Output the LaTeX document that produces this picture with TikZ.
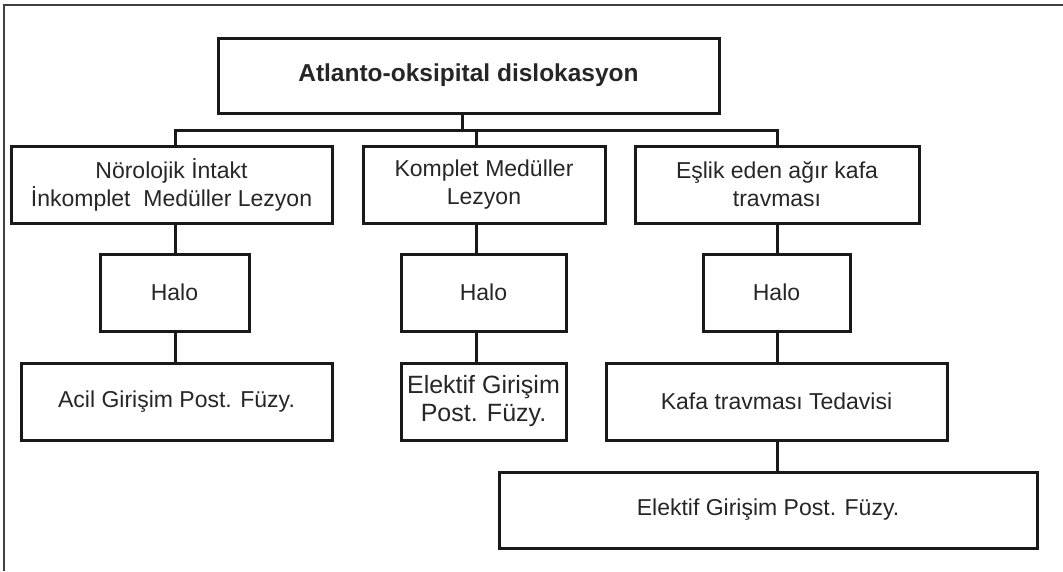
\documentclass[tikz,border=0pt]{standalone}
\usepackage{fontspec}
\setmainfont{Liberation Sans}
\begin{document}
\begin{tikzpicture}[x=1pt,y=-1pt,
  box/.style={draw=black!90, line width=3pt, rectangle, inner sep=0pt,
    text=black!85, align=center, font=\fontsize{23}{28}\selectfont},
  link/.style={draw=black!90, line width=3pt},
  frameline/.style={draw=black!75, line width=1.6pt}]
\useasboundingbox (0,0) rectangle (1063,571);

% outer frame (top and left edges)
\draw[frameline] (4,571) -- (4,5) -- (1063,5);

% title
\node[box, minimum width=501pt, minimum height=75pt,
  font=\fontsize{24.5}{28}\selectfont\bfseries] (top) at (468.5,75.5)
  {Atlanto-oksipital dislokasyon};

% second row
\node[box, minimum width=321pt, minimum height=77pt] (A) at (171.5,184.5)
  {Nörolojik İntakt\\İnkomplet\ \ Medüller Lezyon};
\node[box, minimum width=242pt, minimum height=77pt] (B) at (484,184.5)
  {Komplet Medüller\\Lezyon};
\node[box, minimum width=284pt, minimum height=77pt] (C) at (777,184.5)
  {Eşlik eden ağır kafa\\travması};

% halo row
\node[box, minimum width=149pt, minimum height=77pt] (HA) at (174.5,292.5) {Halo};
\node[box, minimum width=165pt, minimum height=77pt] (HB) at (483.5,292.5) {Halo};
\node[box, minimum width=147pt, minimum height=77pt] (HC) at (776.5,292.5) {Halo};

% fourth row
\node[box, minimum width=311pt, minimum height=77pt] (A4) at (176.5,401.5)
  {Acil Girişim Post. Füzy.};
\node[box, minimum width=165pt, minimum height=77pt,
  font=\fontsize{25}{28}\selectfont] (B4) at (483.5,401.5)
  {Elektif Girişim\\Post. Füzy.};
\node[box, minimum width=341pt, minimum height=77pt] (C4) at (776.5,401.5)
  {Kafa travması Tedavisi};

% last row
\node[box, minimum width=538pt, minimum height=76pt] (C5) at (768,510)
  {Elektif Girişim Post. Füzy.};

% branch columns and bus
\coordinate (bus) at (462,130);
\coordinate (jA) at (175,130);
\coordinate (jB) at (476,130);
\coordinate (jC) at (777,130);

\draw[link] (top.south -| bus) -- (bus);
\draw[link, line cap=rect] (jA) -- (jC);
\draw[link] (jA) -- (jA |- A.north);
\draw[link] (jB) -- (jB |- B.north);
\draw[link] (jC) -- (jC |- C.north);

\draw[link] (A.south -| jA) -- (HA.north -| jA);
\draw[link] (B.south -| jB) -- (HB.north -| jB);
\draw[link] (C.south -| jC) -- (HC.north -| jC);

\draw[link] (HA.south -| jA) -- (A4.north -| jA);
\draw[link] (HB.south -| jB) -- (B4.north -| jB);
\draw[link] (HC.south -| jC) -- (C4.north -| jC);

\draw[link] (C4.south -| jC) -- (C5.north -| jC);
\end{tikzpicture}
\end{document}
